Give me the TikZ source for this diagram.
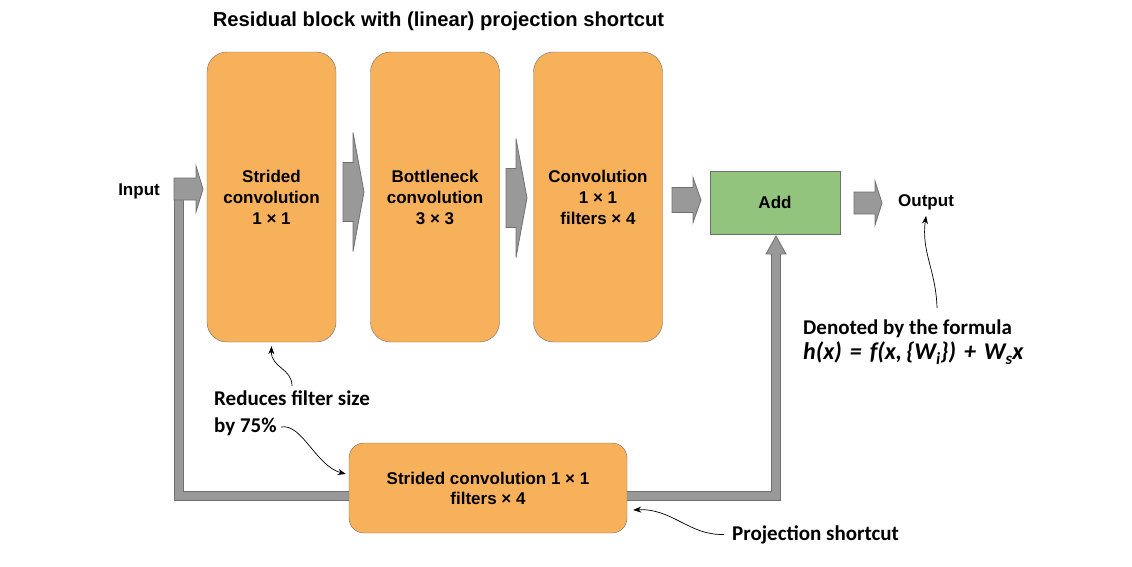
\documentclass[tikz,border=0pt]{standalone}
\usepackage{fontspec}
\setmainfont{Liberation Sans}
\newfontfamily\notefont{Carlito}
\usetikzlibrary{arrows.meta,positioning}
\definecolor{boxorange}{HTML}{F8B15B}
\definecolor{addgreen}{HTML}{93C47D}
\definecolor{barfill}{HTML}{999999}
\definecolor{barline}{HTML}{707070}
\definecolor{boxline}{HTML}{6E6E6E}

% gray block arrow: left x, neck x, tip x, centre y, half body, half head
\newcommand{\blockarrow}[6]{%
  \filldraw[blk] (#1,{#4-#5}) -- (#2,{#4-#5}) -- (#2,{#4-#6}) -- (#3,#4)
    -- (#2,{#4+#6}) -- (#2,{#4+#5}) -- (#1,{#4+#5}) -- cycle;}
% lowered subscript for the formula
\newcommand{\lowsub}[1]{\raisebox{-5pt}{\fontsize{17}{17}\selectfont #1}}

\begin{document}
\begin{tikzpicture}[
    x=1pt, y=-1pt,
    conv/.style={rectangle, draw=boxline, fill=boxorange, rounded corners=20pt, minimum width=129pt, minimum height=290pt, align=center, font=\fontsize{17}{21}\selectfont\bfseries},
    addbox/.style={rectangle, draw=boxline, fill=addgreen, minimum width=130pt, minimum height=63pt, font=\fontsize{17}{21}\selectfont\bfseries},
    label/.style={inner sep=0pt, font=\fontsize{17}{21}\selectfont\bfseries},
    notetext/.style={inner sep=0pt, align=left, font=\notefont\fontsize{21}{27}\selectfont\bfseries},
    blk/.style={fill=barfill, draw=barline, line width=0.8pt},
    note/.style={-{Stealth[length=8pt,width=6pt]}, line width=0.7pt}
]
\useasboundingbox (0,0) rectangle (1132,566);

\node[label, font=\fontsize{20.2}{24}\selectfont\bfseries] (title) at (438.5,21) {Residual block with (linear) projection shortcut};

% shortcut bar
\coordinate (split) at (179,200);
\coordinate (merge) at (776,254);
\draw[barline, line width=10pt] (split) -- (179,496) -- (776,496) -- (merge);
\draw[barfill, line width=8pt] (split) -- (179,496) -- (776,496) -- (merge);
\fill[barfill] (766,254) -- (776,236) -- (786,254) -- cycle;
\draw[barline, line width=0.8pt] (771,254) -- (766,254) -- (776,236) -- (786,254) -- (781,254);

% main path
\node[conv] (strided) at (271.5,197) {Strided\\convolution\\1 × 1};
\node[conv] (bottleneck) at (435,197) {Bottleneck\\convolution\\3 × 3};
\node[conv] (conv) at (598,197) {Convolution\\1 × 1\\filters × 4};
\node[addbox] (add) at (775,202.5) {Add};
\node[conv, rounded corners=15pt, minimum width=278pt, minimum height=90pt, font=\fontsize{17}{20}\selectfont\bfseries] (proj) at (488,488) {Strided convolution 1 × 1\\filters × 4};

\node[label, anchor=east] (input) at (160,191) {Input};
\node[label, anchor=west] (output) at (898,202) {Output};

\blockarrow{174}{196}{203}{189}{11}{23}
\blockarrow{343}{353}{364}{192}{29.5}{59.5}
\blockarrow{506}{516}{527}{198}{29.5}{59.5}
\blockarrow{672}{693}{701}{200}{12.5}{22.5}
\blockarrow{854}{875}{882}{203}{11}{22}

% notes
\node[notetext, anchor=north west] (reduce) at (214,391) {Reduces filter size\\by 75\%};
\node[notetext, anchor=north west, font=\notefont\fontsize{21}{25}\selectfont\bfseries] (denote) at (803,320) {Denoted by the formula\\{\fontsize{24}{24}\selectfont\itshape h(x)\hspace{8pt}=\hspace{8pt}f(x,\hspace{4pt}\{W\lowsub{i}\})\hspace{8pt}+\hspace{8pt}W\lowsub{s}x}};
\node[notetext, anchor=base west] (projnote) at (732,540) {Projection shortcut};

\coordinate (byend) at (281,427);
\draw[note] ([xshift=78pt,yshift=5pt]reduce.north west) .. controls (292,368) and (271,368) .. ([yshift=-4pt]strided.south);
\draw[note] (byend) .. controls (302,423) and (316,466) .. ([xshift=-3pt,yshift=14pt]proj.west);
\draw[note] ([xshift=-8pt]projnote.west) .. controls (690,536) and (672,508) .. ([xshift=6pt,yshift=-22pt]proj.east);
\draw[note] ([xshift=134pt,yshift=12pt]denote.north west) .. controls (936,270) and (921,252) .. ([yshift=-6pt]output.south);

\end{tikzpicture}
\end{document}
